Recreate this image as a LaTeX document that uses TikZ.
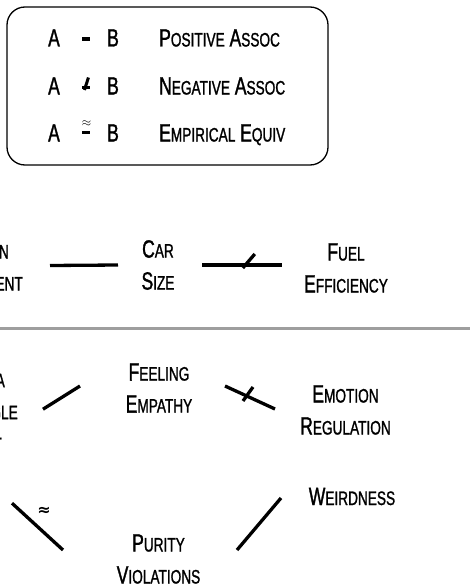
\documentclass[tikz,border=0pt]{standalone}
\usepackage{fontspec}
\setmainfont{Liberation Sans}[FakeStretch=0.7, FakeBold=1.2]
\newfontfamily\symfnt{DejaVu Sans}
\usetikzlibrary{calc}
\newcommand\smc[1]{{\fontsize{19.5pt}{32pt}\selectfont #1}}
\begin{document}
\begin{tikzpicture}[x=1pt,y=-1pt,
  lbl/.style={inner sep=0pt, font=\fontsize{25pt}{32pt}\selectfont, align=center},
  conn/.style={line width=3.3pt},
  legdash/.style={line width=3.8pt},
  legtick/.style={line width=3pt},
  frame/.style={line width=1.3pt, rounded corners=18pt},
  rule/.style={line width=3pt, color=black!38}]
\useasboundingbox (0,0) rectangle (470,586);
\clip (0,0) rectangle (470,586);

% legend
\draw[frame] (7,7) rectangle (328,165);
\node[lbl, anchor=base] (a1) at (54,46.5) {A};
\node[lbl, anchor=base] (b1) at (113,46.5) {B};
\node[lbl, anchor=base west] (d1) at (159,46.5) {P\smc{OSITIVE} A\smc{SSOC}};
\node[lbl, anchor=base] (a2) at (54,94.5) {A};
\node[lbl, anchor=base] (b2) at (113,94.5) {B};
\node[lbl, anchor=base west] (d2) at (159,94.5) {N\smc{EGATIVE} A\smc{SSOC}};
\node[lbl, anchor=base] (a3) at (54,141.5) {A};
\node[lbl, anchor=base] (b3) at (113,141.5) {B};
\node[lbl, anchor=base west] (d3) at (159,141.5) {E\smc{MPIRICAL} E\smc{QUIV}};
\coordinate (m1) at ($(a1.base)!0.55!(b1.base)$);
\coordinate (m2) at ($(a2.base)!0.55!(b2.base)$);
\coordinate (m3) at ($(a3.base)!0.55!(b3.base)$);
\draw[legdash] ($(m1)+(-4,-7.5)$) -- ($(m1)+(4,-7.5)$);
\draw[legdash] ($(m2)+(-4,-7)$) -- ($(m2)+(4,-7)$);
\draw[legtick] ($(m2)+(-2,-4.5)$) -- ($(m2)+(2,-17)$);
\draw[legdash] ($(m3)+(-4,-9)$) -- ($(m3)+(4,-9)$);
\node[inner sep=0pt, font=\fontsize{12pt}{12pt}\selectfont] (ap1) at ($(m3)+(0,-17.5)$) {$\approx$};

% middle
\node[lbl, align=right, anchor=north east] (lt) at (23,240.3)
  {\rule{0pt}{18pt}\smc{N}\kern14pt\\\smc{ENT}};
\node[lbl] (car) at (158,265) {C\smc{AR}\\S\smc{IZE}};
\node[lbl] (fuel) at (346,268) {F\smc{UEL}\\E\smc{FFICIENCY}};
\draw[conn] ([shift={(27,0)}]lt.east) -- ([shift={(-40,0)}]car.center);
\draw[conn] ([shift={(44,0)}]car.center) -- ([shift={(-64,-3)}]fuel.center)
  coordinate[pos=0.51] (k1);
\draw[conn] ($(k1)+(0,3)$) -- ($(k1)+(12,-11)$);

\draw[rule] (0,328) -- (470,328);

% bottom
\node[lbl, align=right, anchor=north east] (ll) at (18,369)
  {\rule{0pt}{18pt}\smc{A}\kern13pt\\\smc{GLE}\\\smc{T}\kern16pt};
\node[lbl] (feel) at (159,388) {F\smc{EELING}\\E\smc{MPATHY}};
\node[lbl] (emo) at (345.5,410) {E\smc{MOTION}\\R\smc{EGULATION}};
\node[lbl] (weird) at (352,496.5) {W\smc{EIRDNESS}};
\node[lbl] (pur) at (158.5,559) {P\smc{URITY}\\V\smc{IOLATIONS}};

\draw[conn] ([shift={(25,-1)}]ll.east) -- ([shift={(-79,-2)}]feel.center);
\draw[conn] ([shift={(66,-2)}]feel.center) -- ([shift={(-70.5,-1)}]emo.center)
  coordinate[pos=0.36] (k2);
\draw[conn] ($(k2)+(0,6.7)$) -- ($(k2)+(10,-7.3)$);
\draw[conn] ([shift={(-6,93)}]ll.east) -- ([shift={(-95.5,-9)}]pur.center)
  node[pos=0.4, xshift=11.6pt, yshift=10.8pt, inner sep=0pt,
       font=\symfnt\bfseries\fontsize{16pt}{16pt}\selectfont] (ap2) {≈};
\draw[conn] ([shift={(78.5,-9)}]pur.center) -- ([shift={(-71,1.5)}]weird.center);
\end{tikzpicture}
\end{document}
